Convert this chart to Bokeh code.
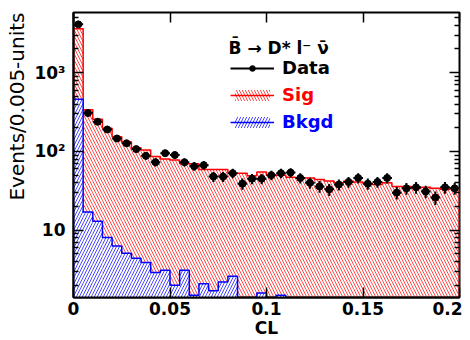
import numpy as np
from bokeh.plotting import figure
from bokeh.models import (Range1d, FixedTicker, LogAxis, LinearAxis, Label, Title,
                          Legend, LegendItem, ColumnDataSource)
from bokeh.embed import file_html
from bokeh.resources import INLINE

# ---------------- data ----------------
bin_width = 0.005
n_bins = 40
data_counts = [4100, 307, 238, 190, 146, 127, 107, 88, 73, 95,
               90, 73, 65, 67, 48, 48, 53, 39, 45, 45,
               50, 53, 54, 46, 40, 36, 33, 38, 41, 46,
               39, 41, 46, 30, 34, 35, 31, 26, 35, 34]
sig_counts = [3600, 338, 257, 197, 154, 133, 111, 104, 86, 80,
              78, 70, 70, 59, 59, 59, 53, 53, 49, 55,
              50, 50, 47, 46, 46, 44, 42, 40, 42, 41,
              39, 38, 40, 36, 36, 34, 35, 34, 33, 34]
bkgd_counts = [460, 17, 13, 8.1, 6.3, 5.1, 4.4, 3.9, 2.9, 3.1,
               2.0, 3.1, 1.5, 2.1, 1.7, 2.2, 2.6, 0, 0, 1.6,
               0, 1.5, 0, 0, 0, 0, 0, 0, 0, 0,
               0, 0, 0, 0, 0, 0, 0, 0, 0, 0]
x_ticks = [0, 0.05, 0.1, 0.15, 0.2]
x_tick_labels = ["0", "0.05", "0.1", "0.15", "0.2"]
y_ticks = [10, 100, 1000]
y_tick_labels = ["10", "10\u00b2", "10\u00b3"]
x_title = "CL"
y_title = "Events/0.005-units"
legend_labels = ["Data", "Sig", "Bkgd"]

# ---------------- derived ----------------
edges = np.arange(n_bins + 1) * bin_width
left, right = edges[:-1], edges[1:]
centers = 0.5 * (left + right)
floor = 1e-3
sig = np.array(sig_counts, float)
bkg = np.array(bkgd_counts, float)
dat = np.array(data_counts, float)
err = np.sqrt(dat)


def step_xy(vals):
    v = np.maximum(vals, floor)
    xs = [edges[0]]
    ys = [floor]
    for i in range(len(v)):
        xs += [edges[i], edges[i + 1]]
        ys += [v[i], v[i]]
    xs.append(edges[-1])
    ys.append(floor)
    return xs, ys


minor = [m * 10 ** k for k in range(0, 4) for m in range(2, 10)]

p = figure(width=462, height=340, x_range=Range1d(0, 0.2),
           y_range=Range1d(1.4, 5800), y_axis_type="log",
           output_backend="svg", toolbar_location=None,
           min_border_left=71, min_border_right=3,
           min_border_top=12, min_border_bottom=43)
p.grid.visible = False
p.outline_line_color = "black"
p.outline_line_width = 2
p.background_fill_color = "white"
p.border_fill_color = "white"

FONT = "DejaVu Sans"

# bottom axis
xa = p.xaxis[0]
xa.ticker = FixedTicker(ticks=x_ticks)
xa.major_label_overrides = dict(zip(x_ticks, x_tick_labels))
xa.major_tick_in = 10
xa.major_tick_out = 0
xa.minor_tick_in = 0
xa.minor_tick_out = 0
xa.major_tick_line_width = 1.5
xa.axis_line_width = 2
xa.major_label_standoff = 4
xa.major_label_text_font = FONT
xa.major_label_text_font_style = "bold"
xa.major_label_text_font_size = "17px"
xa.major_label_text_color = "black"
xa.axis_label = x_title
xa.axis_label_standoff = 0
xa.axis_label_text_font = FONT
xa.axis_label_text_font_style = "bold"
xa.axis_label_text_font_size = "17px"
xa.axis_label_text_color = "black"

# left axis
ya = p.yaxis[0]
ya.ticker = FixedTicker(ticks=y_ticks, minor_ticks=minor)
ya.major_label_overrides = dict(zip(y_ticks, y_tick_labels))
ya.major_tick_in = 10
ya.major_tick_out = 0
ya.minor_tick_in = 5
ya.minor_tick_out = 0
ya.major_tick_line_width = 1.5
ya.minor_tick_line_width = 1.5
ya.axis_line_width = 2
ya.major_label_standoff = 8
ya.major_label_text_font = FONT
ya.major_label_text_font_style = "bold"
ya.major_label_text_font_size = "17px"
ya.major_label_text_color = "black"

# y title, aligned to the top end of the axis
p.add_layout(Title(text=y_title, align="right", standoff=5, text_font=FONT,
                   text_font_size="20px", text_font_style="normal",
                   text_color="black"), "left")

# mirrored axes (ticks only)
ra = LogAxis(ticker=FixedTicker(ticks=y_ticks, minor_ticks=minor))
ra.major_tick_in = 10
ra.major_tick_out = 0
ra.minor_tick_in = 5
ra.minor_tick_out = 0
ra.major_tick_line_width = 1.5
ra.minor_tick_line_width = 1.5
ra.major_label_text_font_size = "1px"
ra.major_label_text_color = None
ra.major_label_standoff = 0
ra.axis_line_color = None
p.add_layout(ra, "right")

ta = LinearAxis(ticker=FixedTicker(ticks=x_ticks))
ta.major_tick_in = 10
ta.major_tick_out = 0
ta.minor_tick_in = 0
ta.minor_tick_out = 0
ta.major_tick_line_width = 1.5
ta.major_label_text_font_size = "1px"
ta.major_label_text_color = None
ta.major_label_standoff = 0
ta.axis_line_color = None
p.add_layout(ta, "above")

# histograms
sig_q = p.quad(left=left, right=right, top=np.maximum(sig, floor), bottom=floor,
               fill_color=None, line_color=None,
               hatch_pattern="\\", hatch_color="red", hatch_scale=6,
               hatch_weight=0.9, hatch_alpha=0.8)
sx, sy = step_xy(sig)
sig_l = p.line(sx, sy, line_color="red", line_width=1.5)

bkg_q = p.quad(left=left, right=right, top=np.maximum(bkg, floor), bottom=floor,
               fill_color="white", line_color=None,
               hatch_pattern="/", hatch_color="blue", hatch_scale=6,
               hatch_weight=0.9, hatch_alpha=0.8)
bx, by = step_xy(bkg)
bkg_l = p.line(bx, by, line_color="blue", line_width=1.5)

# data points
src = ColumnDataSource(dict(x=centers, y=dat, x0=left, x1=right,
                            lo=dat - err, hi=dat + err))
p.segment(x0="x", y0="lo", x1="x", y1="hi", source=src, line_color="black", line_width=2)
hb = p.segment(x0="x0", y0="y", x1="x1", y1="y", source=src, line_color="black", line_width=2)
pts = p.scatter(x="x", y="y", source=src, size=7, color="black")

# legends
def make_legend(label, rends, color, loc):
    lg = Legend(items=[LegendItem(label=label, renderers=rends)], location=loc,
                padding=0, margin=0, spacing=0, border_line_color=None,
                background_fill_alpha=0, glyph_width=44, glyph_height=14,
                label_standoff=8, label_text_font=FONT, label_text_font_style="bold",
                label_text_font_size="18px", label_text_color=color)
    p.add_layout(lg)

make_legend(legend_labels[0], [hb, pts], "black", (157, 219))
make_legend(legend_labels[1], [sig_q, sig_l], "red", (157, 192))
make_legend(legend_labels[2], [bkg_q, bkg_l], "blue", (157, 165))

p.add_layout(Label(x=155, y=250, x_units="screen", y_units="screen",
                   text="B\u0304  \u2192  D* l\u207b \u03bd\u0304", text_font=FONT,
                   text_font_style="bold", text_font_size="17px",
                   text_baseline="alphabetic", text_color="black"))

open("out.html", "w").write(file_html(p, INLINE))
